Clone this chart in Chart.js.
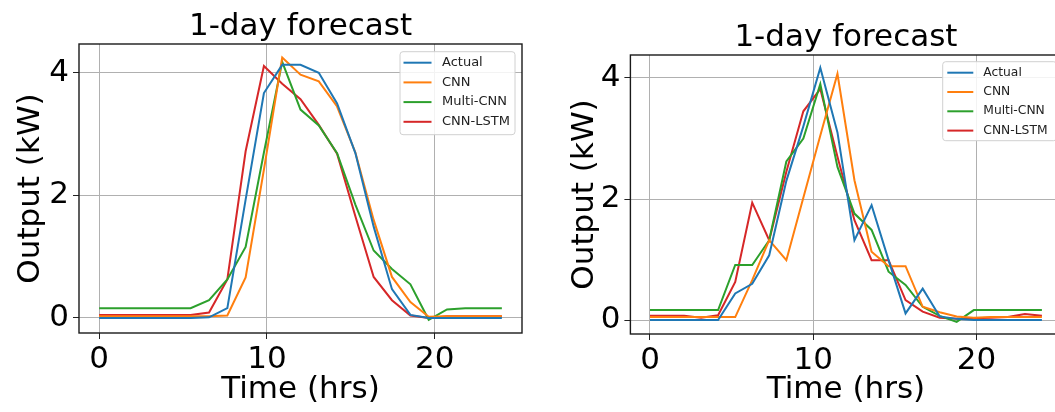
<!DOCTYPE html>
<html>
<head>
<meta charset="utf-8">
<title>1-day forecast</title>
<script src="https://cdn.jsdelivr.net/npm/chart.js@4.4.0/dist/chart.umd.min.js"></script>
<style>
  html, body { margin: 0; padding: 0; background: #fff; overflow: hidden; }
  #wrap { position: relative; width: 1055px; height: 412px; overflow: hidden; }
  .panel { position: absolute; top: 0; height: 412px; }
  #panel-a { left: 0; width: 560px; }
  #panel-b { left: 555px; width: 520px; }
</style>
</head>
<body>
<div id="wrap">
  <div class="panel" id="panel-a"><canvas id="chart-a"></canvas></div>
  <div class="panel" id="panel-b"><canvas id="chart-b"></canvas></div>
</div>
<script>
// left panel: 23 samples over the day
const HOURS_A  = [0, 1.09, 2.18, 3.27, 4.36, 5.45, 6.55, 7.64, 8.73, 9.82, 10.91, 12, 13.09, 14.18, 15.27, 16.36, 17.45, 18.55, 19.64, 20.73, 21.82, 22.91, 24];
const ACTUAL_A = [0, 0, 0, 0, 0, 0, 0.01, 0.16, 1.93, 3.67, 4.13, 4.13, 4.0, 3.5, 2.69, 1.49, 0.47, 0.05, 0, 0, 0, 0, 0];
const CNN_A    = [0.03, 0.03, 0.03, 0.03, 0.03, 0.03, 0.03, 0.04, 0.66, 2.42, 4.25, 3.97, 3.86, 3.45, 2.7, 1.6, 0.67, 0.26, 0.02, 0.03, 0.03, 0.03, 0.03];
const MULTI_A  = [0.16, 0.16, 0.16, 0.16, 0.16, 0.16, 0.29, 0.63, 1.16, 2.7, 4.18, 3.4, 3.14, 2.69, 1.85, 1.1, 0.8, 0.55, -0.03, 0.14, 0.16, 0.16, 0.16];
const LSTM_A   = [0.05, 0.05, 0.05, 0.05, 0.05, 0.05, 0.09, 0.63, 2.72, 4.11, 3.82, 3.57, 3.15, 2.68, 1.66, 0.67, 0.29, 0.04, 0, 0.03, 0.03, 0.03, 0.03];

// right panel: 24 samples over the day
const HOURS_B  = [0, 1.04, 2.09, 3.13, 4.17, 5.22, 6.26, 7.3, 8.35, 9.39, 10.43, 11.48, 12.52, 13.57, 14.61, 15.65, 16.7, 17.74, 18.78, 19.83, 20.87, 21.91, 22.96, 24];
const ACTUAL_B = [0, 0, 0, 0, 0, 0.44, 0.6, 1.07, 2.3, 3.2, 4.17, 3.1, 1.32, 1.9, 0.99, 0.11, 0.52, 0.06, 0.02, 0, 0, 0, 0, 0];
const CNN_B    = [0.05, 0.05, 0.05, 0.05, 0.05, 0.05, 0.66, 1.32, 0.99, 2.02, 3.05, 4.07, 2.31, 1.13, 0.89, 0.89, 0.22, 0.13, 0.06, 0.04, 0.05, 0.05, 0.05, 0.05];
const MULTI_B  = [0.165, 0.165, 0.165, 0.165, 0.165, 0.91, 0.91, 1.32, 2.62, 3.0, 3.9, 2.53, 1.76, 1.49, 0.8, 0.58, 0.22, 0.07, -0.03, 0.165, 0.165, 0.165, 0.165, 0.165];
const LSTM_B   = [0.07, 0.07, 0.07, 0.04, 0.08, 0.63, 1.94, 1.32, 2.45, 3.45, 3.82, 2.7, 1.65, 0.99, 0.99, 0.33, 0.14, 0.04, 0.02, 0.03, 0.04, 0.05, 0.1, 0.07];

const SERIES_NAMES  = ['Actual', 'CNN', 'Multi-CNN', 'CNN-LSTM'];
const SERIES_COLORS = ['#1f77b4', '#ff7f0e', '#2ca02c', '#d62728'];
const X_TICKS = [0, 10, 20];
const Y_TICKS = [0, 2, 4];
const TITLE   = '1-day forecast';
const X_LABEL = 'Time (hrs)';
const Y_LABEL = 'Output (kW)';

const FONT = "'DejaVu Sans', sans-serif";

// black frame round the plot area (all four spines)
const framePlugin = {
  id: 'frame',
  afterDatasetsDraw(chart) {
    const a = chart.chartArea, ctx = chart.ctx;
    ctx.save();
    ctx.strokeStyle = '#1a1a1a';
    ctx.lineWidth = 1.4;
    ctx.strokeRect(a.left, a.top, a.right - a.left, a.bottom - a.top);
    ctx.restore();
  }
};

// matplotlib-style legend box in the upper right corner
const boxLegendPlugin = {
  id: 'boxLegend',
  afterDraw(chart, args, opts) {
    const a = chart.chartArea, ctx = chart.ctx;
    const x0 = a.right - opts.fromRight;
    const y0 = a.top + opts.fromTop;
    ctx.save();
    ctx.fillStyle = 'rgba(255,255,255,0.85)';
    ctx.strokeStyle = '#d0d0d0';
    ctx.lineWidth = 1;
    ctx.beginPath();
    ctx.roundRect(x0, y0, opts.width, opts.height, 3);
    ctx.fill();
    ctx.stroke();
    ctx.font = opts.fontSize + 'px ' + FONT;
    ctx.textBaseline = 'middle';
    chart.data.datasets.forEach((ds, k) => {
      const y = y0 + opts.firstRow + k * opts.rowGap;
      ctx.strokeStyle = ds.borderColor;
      ctx.lineWidth = 2;
      ctx.beginPath();
      ctx.moveTo(x0 + opts.sampleX, y);
      ctx.lineTo(x0 + opts.sampleX + opts.sampleLen, y);
      ctx.stroke();
      ctx.fillStyle = '#222';
      ctx.fillText(ds.label, x0 + opts.textX, y);
    });
    ctx.restore();
  }
};

function makePanel(canvasId, hours, seriesList, box) {
  const datasets = seriesList.map((vals, k) => ({
    label: SERIES_NAMES[k],
    data: vals.map((v, i) => ({ x: hours[i], y: v })),
    borderColor: SERIES_COLORS[k],
    backgroundColor: SERIES_COLORS[k],
    borderWidth: 2,
    pointRadius: 0,
    tension: 0,
    fill: false,
  }));

  return new Chart(document.getElementById(canvasId), {
    type: 'line',
    data: { datasets },
    options: {
      responsive: true,
      maintainAspectRatio: false,
      animation: false,
      events: [],
      layout: { padding: { left: 0, right: box.padRight, top: 0, bottom: 0 } },
      plugins: {
        legend: { display: false },
        tooltip: { enabled: false },
        title: {
          display: true,
          fullSize: false,
          text: TITLE,
          color: '#000',
          font: { family: FONT, size: 31, weight: 'normal', lineHeight: 1.1 },
          padding: { top: box.titleTop, bottom: 0 },
        },
        boxLegend: box.legend,
      },
      scales: {
        x: {
          type: 'linear',
          min: box.xMin,
          max: box.xMax,
          afterBuildTicks: s => { s.ticks = X_TICKS.map(v => ({ value: v })); },
          afterFit: s => { s.height = box.xAxisH; },
          grid: { color: '#b0b0b0', lineWidth: 1, tickLength: 6, tickColor: '#222', drawTicks: true },
          border: { display: false },
          ticks: { color: '#000', padding: 2, maxRotation: 0, font: { family: FONT, size: 31 } },
          title: {
            display: true, text: X_LABEL, color: '#000',
            font: { family: FONT, size: 31, lineHeight: 1.2 },
            padding: { top: 0, bottom: box.xTitlePad },
          },
        },
        y: {
          min: box.yMin,
          max: box.yMax,
          afterBuildTicks: s => { s.ticks = Y_TICKS.map(v => ({ value: v })); },
          afterFit: s => { s.width = box.yAxisW; },
          grid: { color: '#b0b0b0', lineWidth: 1, tickLength: 6, tickColor: '#222', drawTicks: true },
          border: { display: false },
          ticks: { color: '#000', padding: 4, font: { family: FONT, size: 31 } },
          title: {
            display: true, text: Y_LABEL, color: '#000',
            font: { family: FONT, size: 31, lineHeight: 1.2 },
            padding: { top: box.yTitlePad, bottom: 0 },
          },
        },
      },
    },
    plugins: [framePlugin, boxLegendPlugin],
  });
}

makePanel('chart-a', HOURS_A, [ACTUAL_A, CNN_A, MULTI_A, LSTM_A], {
  padRight: 38, yAxisW: 79, xAxisH: 79, titleTop: 9.9,
  xMin: -1.2, xMax: 25.2, yMin: -0.245, yMax: 4.47,
  xTitlePad: 3, yTitlePad: 12.4,
  legend: { fromRight: 122, fromTop: 7.7, width: 115, height: 83, firstRow: 11, rowGap: 19.7,
            sampleX: 3.5, sampleLen: 28, textX: 42, fontSize: 13 },
});

makePanel('chart-b', HOURS_B, [ACTUAL_B, CNN_B, MULTI_B, LSTM_B], {
  padRight: 13.5, yAxisW: 75.4, xAxisH: 78, titleTop: 20.9,
  xMin: -1.2, xMax: 25.2, yMin: -0.23, yMax: 4.38,
  xTitlePad: 3, yTitlePad: 11.4,
  legend: { fromRight: 118.8, fromTop: 6.7, width: 114, height: 79, firstRow: 11, rowGap: 19.3,
            sampleX: 4.6, sampleLen: 26, textX: 40.6, fontSize: 12.3 },
});
</script>
</body>
</html>
